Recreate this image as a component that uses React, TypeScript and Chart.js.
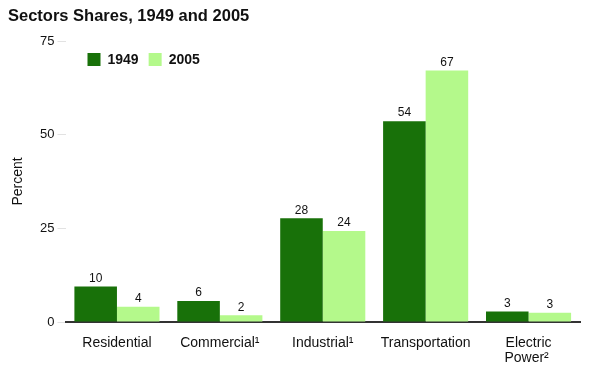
import React, { useEffect, useRef } from "react";
import { Chart, registerables } from "chart.js";

Chart.register(...registerables);

const FONT = '"Liberation Sans", Arial, Helvetica, sans-serif';

const chartTitle = "Sectors Shares, 1949 and 2005";
const categories: (string | string[])[] = [
  "Residential",
  "Commercial¹",
  "Industrial¹",
  "Transportation",
  ["Electric", "Power² "],
];
const seriesNames = ["1949", "2005"];
const series1949 = [9.5, 5.6, 27.7, 53.6, 2.8];
const series2005 = [4.1, 1.8, 24.3, 67.1, 2.5];
const labels1949 = ["10", "6", "28", "54", "3"];
const labels2005 = ["4", "2", "24", "67", "3"];
const yTicks = [0, 25, 50, 75];
const colors = ["#187109", "#b4f98b"];

const titlePlugin = {
  id: "customTitle",
  afterDraw(chart: any) {
    const ctx = chart.ctx;
    ctx.save();
    ctx.font = `bold 16.5px ${FONT}`;
    ctx.fillStyle = "#111";
    ctx.textAlign = "left";
    ctx.textBaseline = "middle";
    ctx.fillText(chartTitle, 8, 16);
    ctx.restore();
  },
};

const legendPlugin = {
  id: "insideLegend",
  afterDraw(chart: any) {
    const ctx = chart.ctx;
    const area = chart.chartArea;
    ctx.save();
    ctx.font = `bold 14px ${FONT}`;
    ctx.textBaseline = "middle";
    ctx.textAlign = "left";
    let x = area.left + 22;
    const y = area.top + 12;
    chart.data.datasets.forEach((ds: any) => {
      ctx.fillStyle = ds.backgroundColor;
      ctx.fillRect(x, y, 13, 13);
      ctx.fillStyle = "#111";
      ctx.fillText(ds.label, x + 20, y + 7);
      x += 20 + ctx.measureText(ds.label).width + 10;
    });
    ctx.restore();
  },
};

const valueLabelPlugin = {
  id: "valueLabels",
  afterDatasetsDraw(chart: any) {
    const ctx = chart.ctx;
    ctx.save();
    ctx.font = `12px ${FONT}`;
    ctx.fillStyle = "#111";
    ctx.textAlign = "center";
    ctx.textBaseline = "middle";
    chart.data.datasets.forEach((ds: any, di: number) => {
      const meta = chart.getDatasetMeta(di);
      meta.data.forEach((bar: any, i: number) => {
        ctx.fillText(ds.valueLabels[i], bar.x, bar.y - 8);
      });
    });
    ctx.restore();
  },
};

export default function App() {
  const ref = useRef<HTMLCanvasElement>(null);

  useEffect(() => {
    if (!ref.current) return;
    const chart = new Chart(ref.current, {
      type: "bar",
      data: {
        labels: categories,
        datasets: [
          {
            label: seriesNames[0],
            data: series1949,
            backgroundColor: colors[0],
            valueLabels: labels1949,
            categoryPercentage: 0.827,
            barPercentage: 1,
          } as any,
          {
            label: seriesNames[1],
            data: series2005,
            backgroundColor: colors[1],
            valueLabels: labels2005,
            categoryPercentage: 0.827,
            barPercentage: 1,
          } as any,
        ],
      },
      options: {
        responsive: false,
        animation: false,
        layout: { padding: { top: 41, right: 10, left: 8, bottom: 0 } },
        plugins: {
          legend: { display: false },
          title: { display: false },
          tooltip: { enabled: false },
        },
        scales: {
          x: {
            grid: { display: false },
            border: { display: true, color: "#333", width: 2 },
            ticks: {
              color: "#111",
              font: { family: FONT, size: 14, lineHeight: 1.1 },
              padding: 5,
              maxRotation: 0,
              autoSkip: false,
            },
            afterFit: (s: any) => {
              s.height = 52;
            },
          },
          y: {
            min: 0,
            max: 75,
            afterBuildTicks: (s: any) => {
              s.ticks = yTicks.map((v) => ({ value: v }));
            },
            grid: {
              display: true,
              drawOnChartArea: false,
              drawTicks: true,
              tickLength: 8,
              color: "#e2e2e2",
            },
            border: { display: false },
            ticks: {
              color: "#111",
              font: { family: FONT, size: 13 },
              padding: 3,
            },
            title: {
              display: true,
              text: "Percent",
              color: "#111",
              font: { family: FONT, size: 14 },
              padding: { top: 2, bottom: 0 },
            },
            afterFit: (s: any) => {
              s.width = 57.5;
            },
          },
        },
      },
      plugins: [titlePlugin, legendPlugin, valueLabelPlugin],
    });
    return () => chart.destroy();
  }, []);

  return (
    <canvas
      ref={ref}
      width={590}
      height={374}
      style={{ position: "fixed", left: 0, top: 0, display: "block" }}
    />
  );
}
